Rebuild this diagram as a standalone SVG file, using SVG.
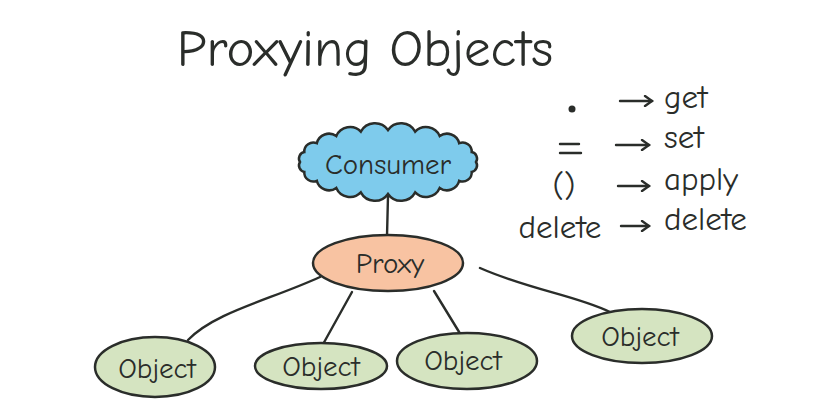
<svg xmlns="http://www.w3.org/2000/svg" width="813" height="407" viewBox="0 0 813 407">
<style>
text{font-family:"Comic Neue","Liberation Sans",sans-serif;fill:#2a2d2a}
.lbl{font-size:29px;text-anchor:middle}
.obj{fill:#d5e4c1;stroke:#2a2d2a;stroke-width:2.5}
.con{fill:none;stroke:#2a2d2a;stroke-width:2.4;stroke-linecap:round}
.leg{font-size:33px}
</style>
<defs>
<marker id="ah" markerWidth="12" markerHeight="12" refX="9" refY="6" orient="auto" markerUnits="userSpaceOnUse">
<path d="M2,1 L9,6 L2,11" fill="none" stroke="#2a2d2a" stroke-width="2.4" stroke-linecap="round"/>
</marker>
</defs>
<rect width="813" height="407" fill="#ffffff"/>
<text id="title" x="365" y="66" font-size="53" text-anchor="middle">Proxying Objects</text>
<g id="connectors" class="con">
<path d="M388,196 L387,236"/>
<path d="M320,277 C270,300 215,312 188,340"/>
<path d="M352,292 L322,346"/>
<path d="M434,291 L464,340"/>
<path d="M480,268 C530,290 575,295 610,312"/>
</g>
<g id="consumer">
<path d="M476,162 A6.5,6.5 0 0 1 471.7,171.9 A9,9 0 0 1 459.2,180.8 A12.5,12.5 0 0 1 439.7,187.9 A15,15 0 0 1 415.2,192.4 A16,16 0 0 1 388,194 A16,16 0 0 1 360.8,192.4 A15,15 0 0 1 336.3,187.9 A12.5,12.5 0 0 1 316.8,180.8 A9,9 0 0 1 304.3,171.9 A6.5,6.5 0 0 1 300,162 A6.5,6.5 0 0 1 304.3,152.1 A9,9 0 0 1 316.8,143.2 A12.5,12.5 0 0 1 336.3,136.1 A15,15 0 0 1 360.8,131.6 A16,16 0 0 1 388,130 A16,16 0 0 1 415.2,131.6 A15,15 0 0 1 439.7,136.1 A12.5,12.5 0 0 1 459.2,143.2 A9,9 0 0 1 471.7,152.1 A6.5,6.5 0 0 1 476,162 Z" fill="#7ecbec" stroke="#2a2d2a" stroke-width="2.5"/>
<text class="lbl" x="388" y="174" font-size="33">Consumer</text>
</g>
<g id="proxy">
<ellipse cx="388" cy="263" rx="75" ry="28" fill="#f8c3a2" stroke="#2a2d2a" stroke-width="2.5"/>
<text class="lbl" x="390" y="273" font-size="32">Proxy</text>
</g>
<g id="object1">
<ellipse class="obj" cx="155" cy="367" rx="60" ry="30"/>
<text class="lbl" x="157" y="378">Object</text>
</g>
<g id="object2">
<ellipse class="obj" cx="321" cy="366" rx="66" ry="23"/>
<text class="lbl" x="321" y="376">Object</text>
</g>
<g id="object3">
<ellipse class="obj" cx="467" cy="361" rx="70" ry="28"/>
<text class="lbl" x="463" y="370">Object</text>
</g>
<g id="object4">
<ellipse class="obj" cx="642" cy="336" rx="70" ry="27"/>
<text class="lbl" x="640" y="346">Object</text>
</g>
<g id="legend">
<circle cx="572" cy="109" r="3.5" fill="#2a2d2a"/>
<path class="con" d="M560,144 L579,144 M560,153 L581,153" stroke-width="3"/>
<text class="leg" x="564" y="196" text-anchor="middle">()</text>
<text class="leg" x="560" y="238" text-anchor="middle">delete</text>
<g class="con">
<path d="M620,101 L652,101" marker-end="url(#ah)"/>
<path d="M616,145 L649,145" marker-end="url(#ah)"/>
<path d="M618,186 L649,186" marker-end="url(#ah)"/>
<path d="M621,226 L649,226" marker-end="url(#ah)"/>
</g>
<text class="leg" x="664" y="108">get</text>
<text class="leg" x="664" y="148">set</text>
<text class="leg" x="664" y="190">apply</text>
<text class="leg" x="664" y="230">delete</text>
</g>
</svg>
